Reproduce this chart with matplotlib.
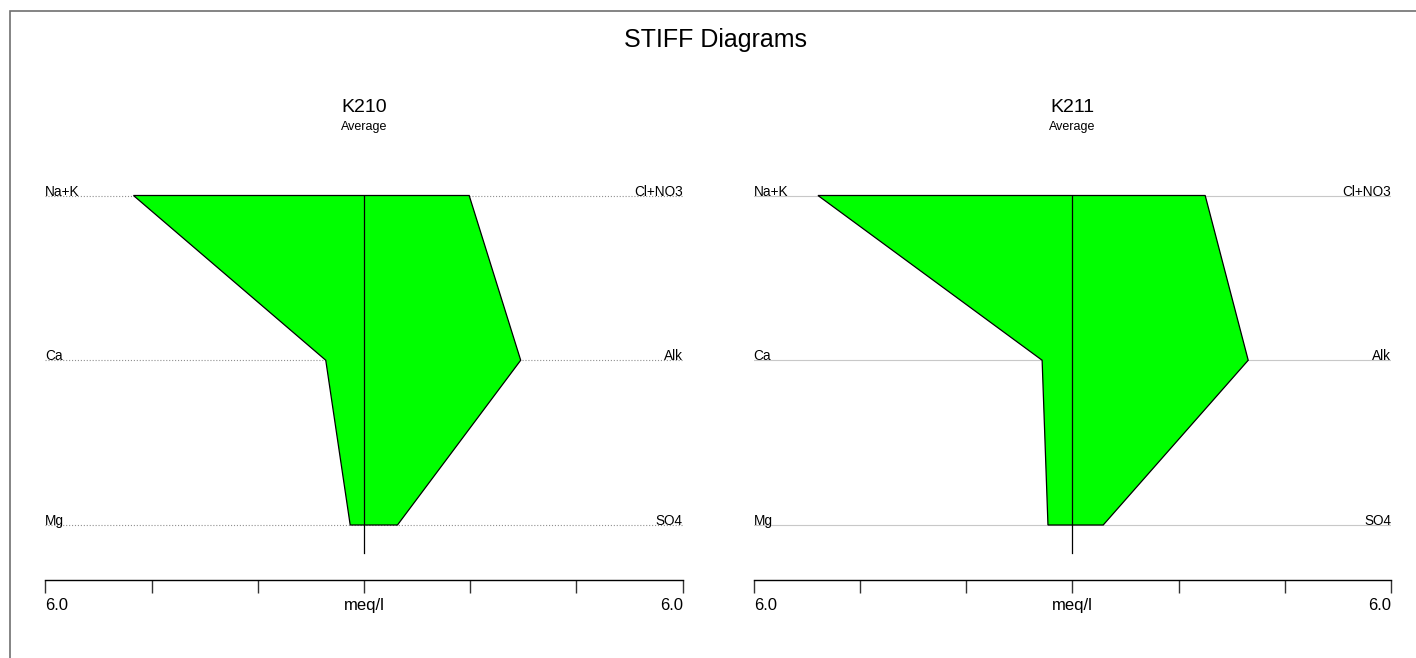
import matplotlib.pyplot as plt
from matplotlib.patches import Polygon, Rectangle

plt.rcParams["font.family"] = ["Liberation Sans", "DejaVu Sans"]

# meq/l
samples = ["K210", "K211"]
cation_names = ["Na+K", "Ca", "Mg"]
anion_names = ["Cl+NO3", "Alk", "SO4"]
cations = {
    "K210": [4.34, 0.72, 0.26],
    "K211": [4.79, 0.57, 0.46],
}
anions = {
    "K210": [1.98, 2.95, 0.63],
    "K211": [2.50, 3.31, 0.58],
}
scale_max = 6.0
scale_ticks = [-6, -4, -2, 0, 2, 4, 6]
scale_labels = ["6.0", "", "", "meq/l", "", "", "6.0"]

W, H = 1416, 658
fig = plt.figure(figsize=(W / 100, H / 100), dpi=100)

# grey frame, open to the right and bottom edges
fig.add_artist(Rectangle((10 / W, -0.1), 2, 1 - 11 / H + 0.1, transform=fig.transFigure,
                         fill=False, edgecolor="#707070", linewidth=1.2))

fig.text(716 / W, 1 - 40 / H, "STIFF Diagrams", ha="center", va="center", fontsize=18)

row_px = 164.75
top_px, bottom_px = 190, 580
rows = [2, 1, 0]
y_top = 2 + (195.5 - top_px) / row_px
y_bot = -(bottom_px - 525) / row_px


def stiff_panel(ax, name, grid_style, grid_color):
    cat = cations[name]
    an = anions[name]
    ax.set_xlim(-scale_max, scale_max)
    ax.set_ylim(y_bot, y_top)

    for r, cn, anm in zip(rows, cation_names, anion_names):
        ax.plot([-scale_max, scale_max], [r, r], color=grid_color, linestyle=grid_style,
                linewidth=0.8, zorder=1)
        ax.text(-scale_max, r, cn, ha="left", va="baseline", fontsize=9.8, zorder=4)
        ax.text(scale_max, r, anm, ha="right", va="baseline", fontsize=9.8, zorder=4)

    pts = [(-c, r) for c, r in zip(cat, rows)] + [(a, r) for a, r in zip(an, rows)][::-1]
    ax.add_patch(Polygon(pts, closed=True, facecolor="#00ff00", edgecolor="black",
                         linewidth=0.9, zorder=2, clip_on=False))
    ax.plot([0, 0], [2, -28 / row_px], color="black", linewidth=0.9, zorder=3)

    for s in ["top", "left", "right"]:
        ax.spines[s].set_visible(False)
    ax.spines["bottom"].set_linewidth(1.0)
    ax.set_yticks([])
    ax.set_xticks(scale_ticks)
    ax.set_xticklabels(scale_labels, fontsize=12)
    ax.tick_params(axis="x", direction="out", length=9.5, width=1.0, pad=3.5, color="#333333")
    for lbl, ha in zip(ax.get_xticklabels(), ["left", "center", "center", "center", "center", "center", "right"]):
        lbl.set_horizontalalignment(ha)
    ax.patch.set_alpha(0)


lefts = [45.3, 753.7]
styles = [(":", "#909090"), ("-", "#c8c8c8")]
for name, left, (ls, lc) in zip(samples, lefts, styles):
    ax = fig.add_axes([left / W, 1 - bottom_px / H, 637.4 / W, (bottom_px - top_px) / H])
    stiff_panel(ax, name, ls, lc)
    cx = (left + 318.7) / W
    fig.text(cx, 1 - 107 / H, name, ha="center", va="center", fontsize=14)
    fig.text(cx, 1 - 127 / H, "Average", ha="center", va="center", fontsize=9)

fig.savefig("out.png", dpi=100)
